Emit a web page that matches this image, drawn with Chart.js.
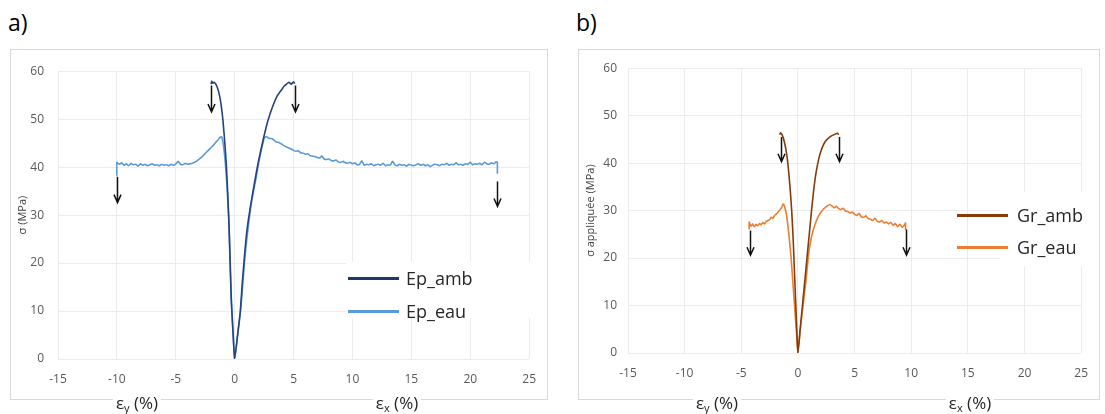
<!DOCTYPE html>
<html>
<head>
<meta charset="utf-8">
<script src="https://cdn.jsdelivr.net/npm/chart.js@4.4.0/dist/chart.umd.min.js"></script>
<style>
    body { margin: 0; background: #fff; font-family: "Open Sans", sans-serif; }
    .frame { position: absolute; border: 1px solid #d9d9d9; box-sizing: border-box; }
    .frame canvas { position: absolute; left: 0; top: 0; }
    .panel-tag { position: absolute; font-size: 23px; color: #000; }
    .axis-lab { position: absolute; font-size: 17px; line-height: 20px; color: #262626; background: #fff; padding: 0 3px; transform: translateX(-50%); white-space: nowrap; }
    .axis-lab sub { font-size: 11px; vertical-align: -3px; }
    .blank { position: absolute; background: #fff; }
    .leg-line { position: absolute; height: 3px; width: 51px; }
    .leg-text { position: absolute; font-size: 18px; line-height: 22px; color: #262626; }
</style>
</head>
<body>

<div class="panel-tag" style="left:8px; top:6px;">a)</div>
<div class="panel-tag" style="left:576px; top:6px;">b)</div>

<div class="frame" style="left:10px; top:49px; width:538px; height:351px;">
    <canvas id="chartA" width="538" height="351"></canvas>
</div>
<div class="frame" style="left:578px; top:49px; width:522px; height:351px;">
    <canvas id="chartB" width="522" height="351"></canvas>
</div>

<!-- legend a -->
<div class="blank" style="left:346px; top:262px; width:184px; height:56px;"></div>
<div class="leg-line" style="left:348px; top:277px; background:#1f3864;"></div>
<div class="leg-text" style="left:406px; top:267px;">Ep_amb</div>
<div class="leg-line" style="left:348px; top:310px; background:#5b9bd5;"></div>
<div class="leg-text" style="left:406px; top:300px;">Ep_eau</div>

<!-- legend b -->
<div class="blank" style="left:1000px; top:192px; width:94px; height:74px;"></div>
<div class="leg-line" style="left:957px; top:214px; background:#843c0c;"></div>
<div class="leg-text" style="left:1017px; top:204px;">Gr_amb</div>
<div class="leg-line" style="left:957px; top:246px; background:#ed7d31;"></div>
<div class="leg-text" style="left:1017px; top:236px;">Gr_eau</div>

<div class="axis-lab" style="left:137px; top:393px;">ε<sub>y</sub> (%)</div>
<div class="axis-lab" style="left:397px; top:393px;">ε<sub>x</sub> (%)</div>
<div class="axis-lab" style="left:717px; top:393px;">ε<sub>y</sub> (%)</div>
<div class="axis-lab" style="left:970px; top:393px;">ε<sub>x</sub> (%)</div>

<script>
// Axis ticks
const xTicks = [-15, -10, -5, 0, 5, 10, 15, 20, 25];
const yTicks = [0, 10, 20, 30, 40, 50, 60];

// a) Ep_amb
const epAmbX = [-2.0, -1.95, -1.85, -1.75, -1.5, -1.25, -1.05, -0.9, -0.72, -0.6, -0.48, -0.38, -0.28, -0.15, 0,
    0.25, 0.48, 0.65, 0.85, 1.05, 1.35, 1.7, 2.0, 2.4, 2.8, 3.2, 3.6, 4.0, 4.2, 4.4, 4.6, 4.8, 5.0, 5.1];
const epAmbY = [57.3, 57.9, 57.5, 57.7, 56.8, 54.5, 51.0, 47.0, 41.0, 35.0, 28.0, 20.0, 12.0, 6.0, 0,
    5.0, 10.0, 16.0, 22.0, 27.0, 32.0, 37.0, 41.0, 45.5, 49.5, 52.5, 54.8, 56.2, 56.9, 57.3, 57.7, 57.3, 57.8, 57.4];

// a) Ep_eau
const epEauX = [-10.0, -10.0, -9.8, -9.6, -9.4, -9.2, -9.0, -8.8, -8.6, -8.4, -8.2, -8.0, -7.8, -7.6, -7.4, -7.2,
    -7.0, -6.8, -6.6, -6.4, -6.2, -6.0, -5.8, -5.6, -5.4, -5.2, -5.0, -4.8, -4.6, -4.4, -4.2, -4.0, -3.8,
    -3.6, -3.4, -3.2, -3.0, -2.8, -2.6, -2.4, -2.2, -2.0, -1.8, -1.6, -1.4, -1.25, -1.1, -0.95, -0.8,
    -0.65, -0.5, -0.4, -0.3, -0.15, 0,
    0.25, 0.5, 0.7, 0.9, 1.15, 1.45, 1.8, 2.05, 2.3, 2.5, 2.7, 2.9, 3.2, 3.5, 3.8, 4.1, 4.4, 4.7,
    5.0, 5.2, 5.4, 5.6, 5.8, 6.0, 6.2, 6.4, 6.6, 6.8, 7.0, 7.2, 7.4, 7.6, 7.8, 8.0, 8.2, 8.4, 8.6, 8.8,
    9.0, 9.2, 9.4, 9.6, 9.8,
    10.0, 10.2, 10.4, 10.6, 10.8, 11.0, 11.2, 11.4, 11.6, 11.8, 12.0, 12.2, 12.4, 12.6, 12.8, 13.0,
    13.2, 13.4, 13.6, 13.8, 14.0, 14.2, 14.4, 14.6, 14.8, 15.0, 15.2, 15.4, 15.6, 15.8, 16.0, 16.2,
    16.4, 16.6, 16.8, 17.0, 17.2, 17.4, 17.6, 17.8, 18.0, 18.2, 18.4, 18.6, 18.8, 19.0, 19.2, 19.4,
    19.6, 19.8, 20.0, 20.2, 20.4, 20.6, 20.8, 21.0, 21.2, 21.4, 21.6, 21.8, 22.0, 22.2, 22.3, 22.3];
const epEauY = [38.2, 41.0, 40.6, 40.9, 40.4, 40.7, 40.3, 40.8, 40.5, 40.6, 40.2, 40.7, 40.4, 40.6, 40.3, 40.5,
    40.7, 40.4, 40.5, 40.3, 40.6, 40.4, 40.5, 40.3, 40.6, 40.4, 40.7, 41.2, 40.6, 40.5, 40.8, 40.6, 40.7,
    40.8, 41.0, 41.3, 41.7, 42.1, 42.6, 43.1, 43.6, 44.1, 44.6, 45.2, 45.7, 46.2, 46.3, 44.5, 41.0,
    36.0, 29.0, 21.0, 13.0, 6.0, 0,
    5.0, 10.0, 16.0, 22.0, 27.5, 33.0, 37.5, 41.0, 44.0, 46.0, 46.4, 46.0, 45.9, 45.3, 45.1, 44.6, 44.2, 43.9,
    43.5, 43.3, 43.4, 43.0, 42.9, 42.7, 42.8, 42.4, 42.3, 42.2, 42.0, 41.9, 42.3, 41.7, 41.6, 41.7, 41.4, 41.3, 41.5, 41.1,
    41.0, 41.2, 40.9, 40.8, 41.0,
    40.7, 40.9, 40.5, 40.6, 41.3, 40.4, 40.6, 40.5, 40.7, 40.3, 40.5, 40.6, 40.4, 40.8, 40.3, 40.5,
    40.4, 41.2, 40.5, 40.3, 40.6, 40.4, 40.5, 40.2, 40.6, 40.4, 40.3, 40.5, 40.7, 40.4, 40.6, 40.3,
    40.5, 40.1, 40.4, 40.6, 40.5, 40.3, 40.6, 40.5, 40.8, 40.4, 40.6, 40.5, 40.9, 40.5, 40.6, 40.4,
    40.7, 40.6, 41.0, 40.5, 40.7, 40.6, 40.8, 40.5, 41.0, 40.7, 40.6, 40.9, 40.7, 41.1, 41.0, 38.6];

// b) Gr_amb
const grAmbX = [-1.6, -1.55, -1.4, -1.2, -1.0, -0.85, -0.7, -0.55, -0.42, -0.32, -0.22, -0.12, 0,
    0.2, 0.4, 0.6, 0.8, 1.0, 1.2, 1.4, 1.6, 1.85, 2.1, 2.4, 2.8, 3.2, 3.5, 3.6];
const grAmbY = [46.0, 46.4, 46.0, 44.5, 42.0, 39.0, 35.0, 30.0, 24.0, 18.0, 12.0, 6.0, 0,
    5.0, 10.0, 15.0, 20.0, 25.0, 30.0, 34.5, 38.0, 41.0, 43.0, 44.5, 45.5, 46.0, 46.3, 46.0];

// b) Gr_eau
const grEauX = [-4.3, -4.3, -4.15, -4.0, -3.85, -3.7, -3.55, -3.4, -3.25, -3.1, -2.95, -2.8, -2.65, -2.5,
    -2.35, -2.2, -2.05, -1.9, -1.75, -1.6, -1.45, -1.3, -1.2, -1.0, -0.8, -0.6, -0.45, -0.3, -0.15, 0,
    0.2, 0.45, 0.7, 0.95, 1.2, 1.5, 1.8, 2.2, 2.6, 2.8,
    3.0, 3.2, 3.4, 3.6, 3.8, 4.0, 4.2, 4.4, 4.6, 4.8, 5.0, 5.2, 5.4, 5.6, 5.8, 6.0, 6.2, 6.4, 6.6,
    6.8, 7.0, 7.2, 7.4, 7.6, 7.8, 8.0, 8.2, 8.4, 8.6, 8.8, 9.0, 9.2, 9.4, 9.5, 9.5];
const grEauY = [26.0, 27.6, 26.7, 27.2, 26.6, 27.1, 26.8, 27.3, 27.0, 27.5, 27.2, 27.7, 27.9, 28.1,
    28.6, 28.4, 29.0, 29.3, 29.7, 30.1, 30.6, 31.4, 31.0, 29.0, 25.0, 20.0, 15.0, 10.0, 5.0, 0,
    5.0, 10.0, 15.0, 21.0, 24.5, 27.0, 28.8, 30.2, 31.0, 31.3,
    31.0, 30.6, 30.9, 30.4, 30.2, 30.5, 29.9, 29.8, 29.5, 29.7, 29.2, 29.0, 29.4, 28.7, 28.6, 28.9,
    28.3, 28.2, 27.9, 28.4, 27.8, 27.6, 27.9, 27.4, 27.6, 27.2, 27.5, 26.9, 27.3, 26.6, 27.1, 26.5, 26.9, 27.4, 25.9];

// Arrows: x position, top value, bottom value
const arrowsAX = [-2.0, 5.1, -10.0, 22.3];
const arrowsATop = [57.0, 57.0, 38.0, 37.0];
const arrowsABot = [51.5, 51.5, 32.6, 31.8];
const arrowsBX = [-1.5, 3.6, -4.2, 9.5];
const arrowsBTop = [45.5, 45.5, 25.8, 26.0];
const arrowsBBot = [40.3, 40.3, 20.6, 20.6];

function toPoints(xs, ys) {
    return xs.map((v, i) => ({ x: v, y: ys[i] }));
}

// Draw the black arrows through the scales
const arrowPlugin = {
    id: 'arrows',
    afterDatasetsDraw(chart, args, opts) {
        const ctx = chart.ctx;
        const xs = chart.scales.x, ys = chart.scales.y;
        ctx.save();
        ctx.strokeStyle = '#111';
        ctx.lineWidth = 1.5;
        opts.xs.forEach((v, i) => {
            const px = Math.round(xs.getPixelForValue(v)) + 0.5;
            const top = ys.getPixelForValue(opts.tops[i]);
            const bot = ys.getPixelForValue(opts.bottoms[i]);
            ctx.beginPath();
            ctx.moveTo(px, top);
            ctx.lineTo(px, bot);
            ctx.moveTo(px - 3.5, bot - 8);
            ctx.lineTo(px, bot);
            ctx.lineTo(px + 3.5, bot - 8);
            ctx.stroke();
        });
        ctx.restore();
    }
};

function buildChart(id, cfg) {
    const ctx = document.getElementById(id).getContext('2d');
    return new Chart(ctx, {
        type: 'scatter',
        data: {
            datasets: cfg.series.map(s => ({
                label: s.label,
                data: toPoints(s.xs, s.ys),
                showLine: true,
                borderColor: s.color,
                borderWidth: 1.6,
                pointRadius: 0,
                tension: 0.15
            }))
        },
        options: {
            responsive: false,
            animation: false,
            layout: { padding: cfg.padding },
            plugins: {
                legend: { display: false },
                tooltip: { enabled: false },
                arrows: cfg.arrows
            },
            scales: {
                x: {
                    min: -15, max: 25,
                    afterBuildTicks: s => { s.ticks = xTicks.map(v => ({ value: v })); },
                    afterFit: s => { s.height = cfg.xHeight; },
                    grid: { color: '#ececec', drawTicks: false },
                    border: { display: false },
                    ticks: { padding: 13, color: '#595959', font: { family: 'Open Sans', size: 12 } }
                },
                y: {
                    min: 0, max: 60,
                    afterBuildTicks: s => { s.ticks = yTicks.map(v => ({ value: v })); },
                    afterFit: s => { s.width = cfg.yWidth; },
                    grid: { color: '#ececec', drawTicks: false },
                    border: { display: false },
                    ticks: { padding: cfg.yPad, color: '#595959', font: { family: 'Open Sans', size: 12 } },
                    title: {
                        display: true,
                        text: cfg.yTitle,
                        color: '#404040',
                        padding: { top: 5, bottom: 0 },
                        font: { family: 'Open Sans', size: 11 }
                    }
                }
            }
        },
        plugins: [arrowPlugin]
    });
}

buildChart('chartA', {
    series: [
        { label: 'Ep_amb', xs: epAmbX, ys: epAmbY, color: '#24437f' },
        { label: 'Ep_eau', xs: epEauX, ys: epEauY, color: '#5b9bd5' }
    ],
    arrows: { xs: arrowsAX, tops: arrowsATop, bottoms: arrowsABot },
    padding: { top: 10, right: 17, left: 0, bottom: 0 },
    xHeight: 42,
    yWidth: 47,
    yPad: 14,
    yTitle: 'σ (MPa)'
});

buildChart('chartB', {
    series: [
        { label: 'Gr_amb', xs: grAmbX, ys: grAmbY, color: '#843c0c' },
        { label: 'Gr_eau', xs: grEauX, ys: grEauY, color: '#ed7d31' }
    ],
    arrows: { xs: arrowsBX, tops: arrowsBTop, bottoms: arrowsBBot },
    padding: { top: 13, right: 9, left: 0, bottom: 0 },
    xHeight: 48,
    yWidth: 49,
    yPad: 11,
    yTitle: 'σ appliquée (MPa)'
});
</script>
</body>
</html>
